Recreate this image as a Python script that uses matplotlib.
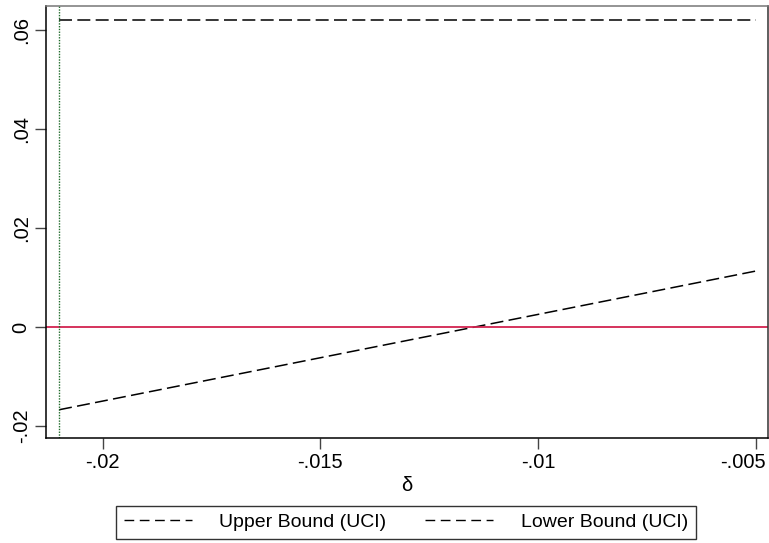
import matplotlib
matplotlib.use("Agg")
import matplotlib.pyplot as plt
import matplotlib.transforms as mtransforms
from matplotlib.lines import Line2D

plt.rcParams['font.family'] = ['Liberation Sans', 'DejaVu Sans']

# bound curves over delta
delta = [-0.021, -0.017, -0.013, -0.009, -0.005]
upper_uci = [0.062, 0.062, 0.062, 0.062, 0.062]
lower_uci = [-0.0167, -0.0097, -0.0027, 0.0043, 0.0113]
delta_min = -0.021

xticks = [-0.02, -0.015, -0.01, -0.005]
xtick_labels = ["-.02", "-.015", "-.01", "-.005"]
yticks = [-0.02, 0.0, 0.02, 0.04, 0.06]
ytick_labels = ["-.02", "0", ".02", ".04", ".06"]

fs = 14.5

fig = plt.figure(figsize=(7.69, 5.43), dpi=100)
ax = fig.add_axes([46 / 769, 1 - 438 / 543, (768 - 46) / 769, (438 - 6) / 543])

ax.plot(delta, upper_uci, color="black", lw=1.1, dashes=(8.5, 3.5))
ax.plot(delta, lower_uci, color="black", lw=1.1, dashes=(8.5, 3.5))
ax.axhline(0, color="#d2234f", lw=1.3)
ax.axvline(delta_min, color="#1f6b2a", lw=1.0, ls=(0, (1, 1)))

ax.set_xlim(-0.0213, -0.00472)
ax.set_ylim(-0.0224, 0.0648)
ax.set_xticks(xticks)
ax.set_xticklabels(xtick_labels)
ax.set_yticks(yticks)
ax.set_yticklabels(ytick_labels, rotation=90, va="center")
ax.tick_params(direction="out", length=8, width=1, color="#444444",
               labelsize=fs, pad=3)
ax.set_xlabel("δ", fontsize=fs, labelpad=3)

# keep the last x label inside the figure
last = ax.get_xticklabels()[-1]
last.set_horizontalalignment("right")
last.set_transform(last.get_transform() +
                   mtransforms.ScaledTranslation(10 / 100, 0, fig.dpi_scale_trans))

ax.spines["top"].set_color("#777777")
ax.spines["right"].set_color("#333333")
for s in ax.spines.values():
    s.set_linewidth(1.1)

handles = [Line2D([], [], color="black", lw=1.0, dashes=(7, 4)),
           Line2D([], [], color="black", lw=1.0, dashes=(7, 4))]
leg = fig.legend(handles, ["Upper Bound (UCI)", "Lower Bound (UCI)"],
                 loc="center", bbox_to_anchor=(0.528, 0.038), ncol=2,
                 fontsize=14, frameon=True, fancybox=False,
                 edgecolor="black", handlelength=3.5, handletextpad=1.4,
                 columnspacing=2.0, borderpad=0.4)
leg.get_frame().set_linewidth(1.0)

fig.savefig("out.png", dpi=100, facecolor="white")
